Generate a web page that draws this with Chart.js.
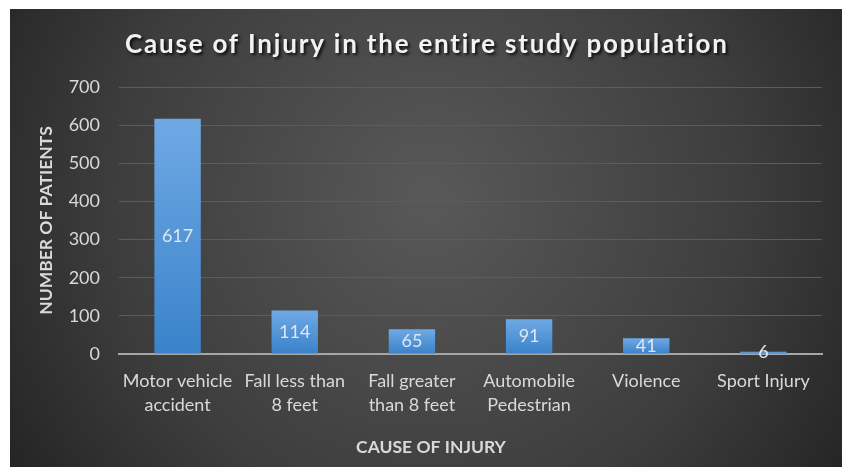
<!DOCTYPE html>
<html><head><meta charset="utf-8">
<script src="https://cdn.jsdelivr.net/npm/chart.js@4.4.0/dist/chart.umd.min.js"></script>
<style>
html,body{margin:0;padding:0;background:#fff;width:842px;height:467px;overflow:hidden;}
#wrap{position:absolute;left:10px;top:9px;width:832px;height:458px;}
</style></head><body>
<div id="wrap"><canvas id="c" width="832" height="458"></canvas></div>
<script>
const chartTitle = "Cause of Injury in the entire study population";
const categories = [["Motor vehicle","accident"],["Fall less than","8 feet"],["Fall greater","than 8 feet"],["Automobile","Pedestrian"],["Violence"],["Sport Injury"]];
const patients = [617,114,65,91,41,6];
const yTicks = [0,100,200,300,400,500,600,700];
const xAxisTitle = "CAUSE OF INJURY";
const yAxisTitle = "NUMBER OF PATIENTS";

const FONT = "Lato, 'Open Sans', sans-serif";
const TEXT = '#d9d9d9';

const bgPlugin = {
  id: 'bg',
  beforeDraw(chart) {
    const {ctx, width, height} = chart;
    ctx.save();
    const g = ctx.createRadialGradient(420, 190, 20, 420, 190, 560);
    g.addColorStop(0, '#575757');
    g.addColorStop(0.55, '#3d3d3d');
    g.addColorStop(1, '#1c1c1c');
    ctx.fillStyle = g;
    ctx.fillRect(0, 0, width, height);
    ctx.restore();
  }
};

const textPlugin = {
  id: 'texts',
  afterDatasetsDraw(chart) {
    const {ctx} = chart;
    const meta = chart.getDatasetMeta(0);
    ctx.save();
    ctx.font = "18px " + FONT;
    ctx.fillStyle = '#dde7f2';
    ctx.textAlign = 'center';
    ctx.textBaseline = 'middle';
    meta.data.forEach((el, i) => {
      ctx.fillText(String(patients[i]), el.x, (el.y + el.base) / 2);
    });
    ctx.restore();
  },
  afterDraw(chart) {
    const {ctx, width} = chart;
    ctx.save();
    ctx.font = "bold 26px " + FONT;
    const w0 = ctx.measureText(chartTitle).width;
    const target = 603;
    const ls = Math.max(0, (target - w0) / (chartTitle.length - 1));
    ctx.letterSpacing = ls.toFixed(2) + 'px';
    ctx.fillStyle = '#f2f2f2';
    ctx.textAlign = 'center';
    ctx.textBaseline = 'middle';
    ctx.shadowColor = 'rgba(0,0,0,0.8)';
    ctx.shadowOffsetX = 2;
    ctx.shadowOffsetY = 2;
    ctx.shadowBlur = 3;
    ctx.fillText(chartTitle, width / 2 + ls / 2, 36);
    ctx.restore();
    ctx.save();
    ctx.font = "bold 17.5px " + FONT;
    ctx.fillStyle = TEXT;
    ctx.textAlign = 'center';
    ctx.textBaseline = 'middle';
    ctx.fillText(xAxisTitle, 421, 438);
    ctx.restore();
  }
};

function barFill(c) {
  const el = c.chart.getDatasetMeta(0).data[c.dataIndex];
  if (!el || el.y == null || isNaN(el.y) || el.base == null || isNaN(el.base) || el.base === el.y) return '#4a8fd6';
  const g = c.chart.ctx.createLinearGradient(0, el.y, 0, el.base);
  g.addColorStop(0, '#6fa9e4');
  g.addColorStop(1, '#3a83ca');
  return g;
}

const chart = new Chart(document.getElementById('c'), {
  type: 'bar',
  data: {
    labels: categories,
    datasets: [{
      data: patients,
      backgroundColor: barFill,
      borderWidth: 0,
      barPercentage: 0.8,
      categoryPercentage: 0.495
    }]
  },
  options: {
    responsive: false,
    animation: false,
    devicePixelRatio: 1,
    layout: { padding: { top: 78, right: 20, left: 0, bottom: 0 } },
    plugins: { legend: { display: false }, tooltip: { enabled: false }, title: { display: false } },
    scales: {
      x: {
        grid: { display: false, drawTicks: false },
        border: { display: true, color: '#a6a6a6', width: 2 },
        ticks: { color: TEXT, font: { family: FONT, size: 18, lineHeight: 1.34 }, padding: 15, maxRotation: 0, autoSkip: false },
        afterFit(s) { s.height = 113; }
      },
      y: {
        min: 0, max: 700,
        afterBuildTicks(s) { s.ticks = yTicks.map(v => ({ value: v })); },
        grid: { color: '#5c5c5c', lineWidth: 1, drawTicks: false },
        border: { display: false },
        ticks: { color: TEXT, font: { family: FONT, size: 18 }, padding: 19 },
        title: { display: true, text: yAxisTitle, color: TEXT, font: { family: FONT, size: 17.5, weight: 'bold' }, padding: 26 },
        afterFit(s) { s.width = 109; }
      }
    }
  },
  plugins: [bgPlugin, textPlugin]
});
chart.update('none');
</script>
</body></html>
